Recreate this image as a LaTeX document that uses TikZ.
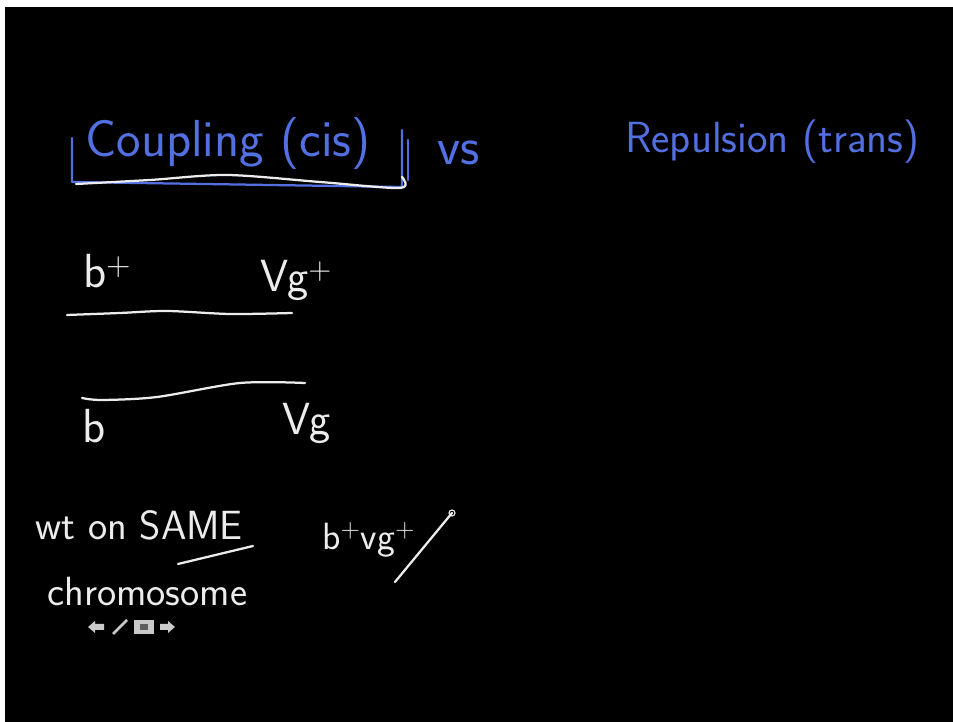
\documentclass[tikz,border=0pt]{standalone}
\usepackage{tikz}
\usetikzlibrary{positioning}

\definecolor{inkblue}{RGB}{82,112,226}
\definecolor{chalk}{RGB}{236,236,236}

\begin{document}
\begin{tikzpicture}[
    x=0.025cm, y=0.025cm,
    ink/.style={text=inkblue, anchor=base west, inner sep=0pt, font=\sffamily\fontsize{37}{41}\selectfont},
    chalktext/.style={text=chalk, anchor=base west, inner sep=0pt, font=\sffamily\fontsize{32}{36}\selectfont},
    note/.style={chalktext, font=\sffamily\fontsize{29}{32}\selectfont},
    pen/.style={draw=chalk, line width=1.6pt, line cap=round, line join=round},
    bluepen/.style={draw=inkblue, line width=1.6pt, line cap=round, line join=round},
    icon/.style={fill=chalk!85!black, draw=none},
]

% --- board ---
\useasboundingbox (0,0) rectangle (953,722);
\fill[white] (0,0) rectangle (953,722);
\fill[black] (5,0) rectangle (953,715);

% === headings ===
\node[ink] (cis) at (85,565) {Coupling (cis)};
\node[ink, font=\sffamily\fontsize{38}{42}\selectfont] (vs) at (437,557) {vs};
\node[ink, font=\sffamily\fontsize{31}{34}\selectfont] (trans) at (625,569) {Repulsion (trans)};

% --- bracket under Coupling (cis) ---
\draw[bluepen] (72,584) -- (72,540) -- (402,535) -- (402,592);
\draw[bluepen] (408,582) -- (408,542);
\draw[pen] plot[smooth] coordinates {(76,538) (150,542) (227,547) (320,540) (400,534) (402,545)};

% === coupling: wild type on one chromosome ===
\node[chalktext, font=\sffamily\fontsize{34}{38}\selectfont] (bplus) at (83,434) {b\textsuperscript{+}};
\node[chalktext] (vgplus) at (260,430) {Vg\textsuperscript{+}};
\draw[pen] plot[smooth] coordinates {(67,407) (120,409) (167,411) (230,408) (292,409)};

% --- homolog ---
\draw[pen] plot[smooth] coordinates {(82,324) (102,322) (157,325) (240,339) (305,339)};
\node[chalktext, font=\sffamily\fontsize{34}{38}\selectfont] (bminus) at (82,279) {b};
\node[chalktext] (vgminus) at (282,287) {Vg};

% === note ===
\node[note] (wt) at (35,182) {wt on SAME};
\draw[pen] (178,158) -- (253,176);
\node[note] (chrom) at (47,116) {chromosome};
\node[chalktext, font=\sffamily\fontsize{27}{30}\selectfont] (gamete) at (322,172) {b\textsuperscript{+}vg\textsuperscript{+}};
\draw[pen] (395,140) -- (452,209);
\draw[chalk, line width=0.8pt] (452,209) circle (3);

% --- player controls ---
\fill[icon] (88,95) -- (95,101) -- (95,98) -- (104,98) -- (104,92) -- (95,92) -- (95,89) -- cycle;
\draw[chalk!85!black, line width=2pt] (113,88) -- (127,102);
\fill[icon] (134,88) rectangle (154,102);
\fill[chalk!40!black] (140,92) rectangle (148,98);
\fill[icon] (175,95) -- (168,101) -- (168,98) -- (160,98) -- (160,92) -- (168,92) -- (168,89) -- cycle;

\end{tikzpicture}
\end{document}
